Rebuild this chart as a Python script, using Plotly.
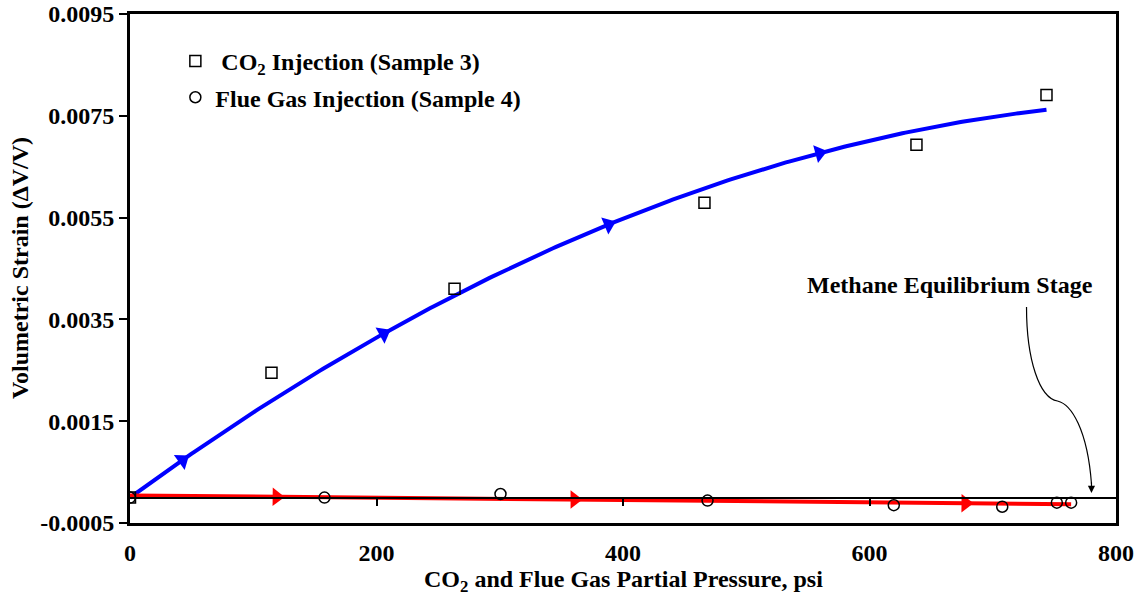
import numpy as np
import plotly.graph_objects as go

# Measured volumetric strain vs. gas partial pressure
co2_p = [0, 114.8, 263.3, 466.1, 638.1, 743.6]
co2_strain = [0.0, 0.00245, 0.00410, 0.00579, 0.00693, 0.00791]

flue_p = [0, 157.8, 300.6, 468.6, 619.7, 707.7, 752.0, 763.6]
flue_strain = [0.0, 0.0000, 0.00007, -0.00006, -0.00015, -0.00018, -0.00010, -0.00010]

# Pressures at which direction arrows sit on each trend line
co2_arrow_p = [42.6, 205.7, 388.2, 559.4]
flue_arrow_p = [119.0, 360.7, 677.9]

x_ticks = [0, 200, 400, 600, 800]
y_ticks = [-0.0005, 0.0015, 0.0035, 0.0055, 0.0075, 0.0095]
y_tick_text = ["-0.0005", "0.0015", "0.0035", "0.0055", "0.0075", "0.0095"]

FONT = "Liberation Serif"
BLACK = "#000000"


def trend_curve(px, py, deg, arrows, through_origin=False):
    px = np.asarray(px, float)
    py = np.asarray(py, float)
    if through_origin:
        A = np.vstack([px ** k for k in range(1, deg + 1)]).T
        c, *_ = np.linalg.lstsq(A, py, rcond=None)
        f = lambda x: sum(c[k - 1] * x ** k for k in range(1, deg + 1))
    else:
        c = np.polyfit(px, py, deg)
        f = lambda x: np.polyval(c, x)
    xs = np.linspace(px.min(), px.max(), 300)
    xs = np.sort(np.concatenate([xs, np.asarray(arrows, float)]))
    sizes = [16 if any(abs(x - a) < 1e-9 for a in arrows) else 0 for x in xs]
    return xs, f(xs), sizes


fig = go.Figure()

bx, by, bs = trend_curve(co2_p, co2_strain, 2, co2_arrow_p, through_origin=True)
fig.add_trace(go.Scatter(
    x=bx, y=by, mode="lines+markers", showlegend=False, hoverinfo="skip",
    line=dict(color="#0000FF", width=4),
    marker=dict(symbol="triangle-up", size=bs, color="#0000FF", angleref="previous",
                opacity=1, line=dict(width=0)),
))

rx, ry, rs = trend_curve(flue_p, flue_strain, 1, flue_arrow_p)
fig.add_trace(go.Scatter(
    x=rx, y=ry, mode="lines+markers", showlegend=False, hoverinfo="skip",
    line=dict(color="#FF0000", width=4),
    marker=dict(symbol="triangle-up", size=rs, color="#FF0000", angleref="previous",
                opacity=1, line=dict(width=0)),
))

fig.add_trace(go.Scatter(
    x=co2_p, y=co2_strain, mode="markers", name="&nbsp;CO<sub>2</sub> Injection (Sample 3)",
    legendgroup="a",
    marker=dict(symbol="square-open", size=11, color=BLACK, line=dict(width=1.5)),
))
fig.add_trace(go.Scatter(
    x=flue_p, y=flue_strain, mode="markers", name="Flue Gas Injection (Sample 4)",
    legendgroup="b",
    marker=dict(symbol="circle-open", size=11, color=BLACK, line=dict(width=1.5)),
))

# Invisible trace that carries the zero-strain axis
fig.add_trace(go.Scatter(x=[0], y=[0], xaxis="x2", mode="markers",
                         marker=dict(size=0, opacity=0), showlegend=False, hoverinfo="skip"))

# Curved pointer to the methane equilibrium stage
fig.add_shape(
    type="path", xref="x", yref="y",
    path=("M 727.4,0.003744 C 727.4,0.002702 737.9,0.001956 752.5,0.001897 "
          "C 763.8,0.001838 776.8,0.001327 780.1,0.000270"),
    line=dict(color=BLACK, width=1.2),
)
fig.add_annotation(
    x=780.1, y=0.00009, xref="x", yref="y", ax=0, ay=-12, axref="pixel", ayref="pixel",
    text="", showarrow=True, arrowhead=2, arrowsize=1.2, arrowwidth=1.2, arrowcolor=BLACK,
)
fig.add_annotation(
    x=665.7, y=0.00418, xref="x", yref="y", showarrow=False,
    text="<b>Methane Equilibrium Stage</b>",
    font=dict(family=FONT, size=24, color=BLACK),
)

# Axis titles
fig.add_annotation(
    x=0.5, y=-0.113, xref="paper", yref="paper", showarrow=False,
    text="<b>CO<sub>2</sub> and Flue Gas Partial Pressure, psi</b>",
    font=dict(family=FONT, size=24, color=BLACK), yanchor="middle",
)
fig.add_annotation(
    x=-0.112, y=0.5, xref="paper", yref="paper", showarrow=False, textangle=-90,
    text="<b>Volumetric Strain (\u0394V/V)</b>",
    font=dict(family=FONT, size=24, color=BLACK), xanchor="center",
)

fig.update_layout(
    width=1140, height=598,
    margin=dict(l=130, r=24, t=14, b=75, autoexpand=False),
    paper_bgcolor="white", plot_bgcolor="white",
    font=dict(family=FONT, size=24, color=BLACK),
    showlegend=True,
    legend=dict(
        x=0.046, y=0.951, xanchor="left", yanchor="top",
        bgcolor="rgba(0,0,0,0)", traceorder="grouped", tracegroupgap=2,
        font=dict(family=FONT, size=24, color=BLACK, weight="bold"),
    ),
    xaxis=dict(
        range=[0, 800], tickvals=x_ticks, ticktext=[f"<b>{v}</b>" for v in x_ticks],
        showline=True, linecolor=BLACK, linewidth=3, mirror=True, automargin=False,
        ticks="", showgrid=False, zeroline=False, ticklabelstandoff=6,
        tickfont=dict(family=FONT, size=24, color=BLACK),
    ),
    xaxis2=dict(
        range=[0, 800], overlaying="x", anchor="free", position=0.05, automargin=False,
        tickvals=x_ticks[1:-1], showticklabels=False, ticks="outside", ticklen=8,
        tickwidth=2, tickcolor=BLACK, showline=True, linecolor=BLACK, linewidth=1.5,
        showgrid=False, zeroline=False,
    ),
    yaxis=dict(
        range=[-0.0005, 0.0095], tickvals=y_ticks, automargin=False,
        ticktext=[f"<b>{t}</b>" for t in y_tick_text],
        showline=True, linecolor=BLACK, linewidth=3, mirror=True,
        ticks="outside", ticklen=8, tickwidth=2, tickcolor=BLACK,
        showgrid=False, zeroline=False,
        tickfont=dict(family=FONT, size=24, color=BLACK),
    ),
)

fig.write_html("out.html")
